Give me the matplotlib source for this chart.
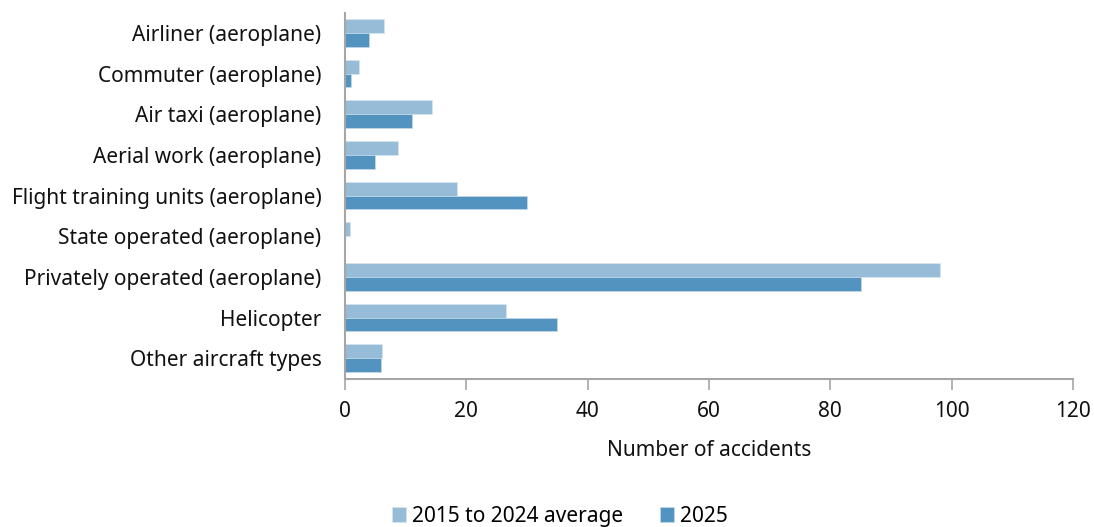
import matplotlib
matplotlib.use("Agg")
import matplotlib.pyplot as plt
import numpy as np

categories = ["Airliner (aeroplane)", "Commuter (aeroplane)", "Air taxi (aeroplane)",
              "Aerial work (aeroplane)", "Flight training units (aeroplane)",
              "State operated (aeroplane)", "Privately operated (aeroplane)",
              "Helicopter", "Other aircraft types"]
avg_2015_2024 = [6.4, 2.3, 14.4, 8.8, 18.5, 0.8, 98.1, 26.6, 6.1]
y2025 = [4, 1, 11, 5, 30, 0, 85, 35, 6]
xticks = [0, 20, 40, 60, 80, 100, 120]

plt.rcParams['font.family'] = ['Noto Sans', 'DejaVu Sans']
c_avg = "#97BCD7"
c_25 = "#5393C0"
axis_c = "#A6A6A6"
txt_c = "#111111"
fs = 15

fig = plt.figure(figsize=(10.94, 5.27), dpi=100)
ax = fig.add_axes([0.3154, 0.2815, 0.6654, 0.6945])

y = np.arange(len(categories))
h = 0.34
ax.barh(y - h/2, avg_2015_2024, height=h, color=c_avg, edgecolor="#D6E6F1", linewidth=0.5,
        label="2015 to 2024 average")
ax.barh(y + h/2, y2025, height=h, color=c_25, edgecolor="#C5DAEA", linewidth=0.5,
        label="2025")

ax.set_ylim(len(categories) - 0.5, -0.5)
ax.set_xlim(0, 120)
ax.set_xticks(xticks)
ax.set_yticks(y)
ax.set_yticklabels(categories, fontsize=fs, color=txt_c)
ax.tick_params(axis='y', length=0, pad=17)
ax.tick_params(axis='x', length=8, width=1.2, color=axis_c, labelsize=fs,
               labelcolor=txt_c, pad=8, direction='out')
for s in ["top", "right"]:
    ax.spines[s].set_visible(False)
for s in ["left", "bottom"]:
    ax.spines[s].set_color(axis_c)
    ax.spines[s].set_linewidth(1.5)
ax.set_xlabel("Number of accidents", fontsize=fs, color=txt_c, labelpad=13)

fig.legend(loc="lower center", bbox_to_anchor=(0.512, -0.035), ncol=2, frameon=False,
           fontsize=fs, handlelength=0.68, handleheight=0.68, handletextpad=0.3,
           columnspacing=1.75)

fig.savefig("out.png", dpi=100)
